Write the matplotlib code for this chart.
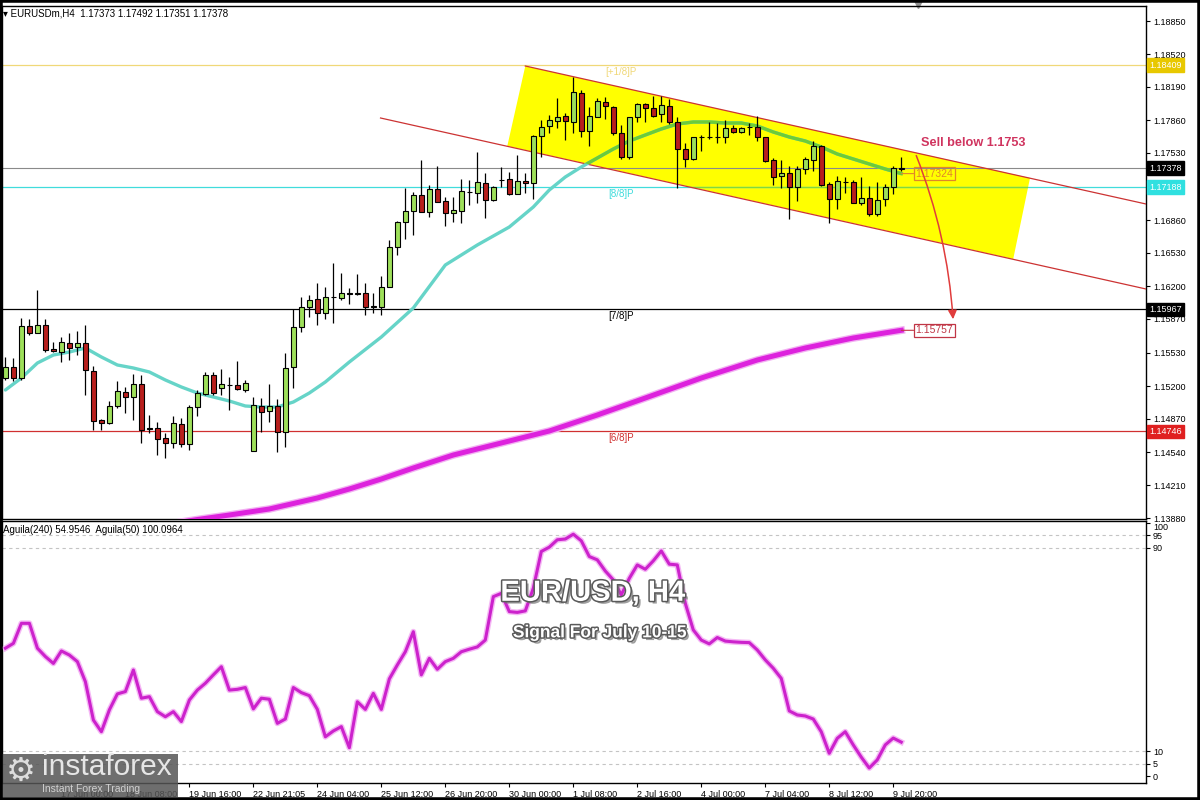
import numpy as np
import matplotlib
matplotlib.use('Agg')
import matplotlib.pyplot as plt
import matplotlib.patheffects as pe
from matplotlib.patches import Polygon, Rectangle, FancyArrowPatch
from matplotlib.transforms import blended_transform_factory

plt.rcParams['font.family'] = ['Liberation Sans', 'DejaVu Sans']

# EURUSD H4 candles (bar 0 = leftmost)
opens = [1.1528, 1.1539, 1.1528, 1.1580, 1.1573, 1.1581, 1.1557, 1.1554, 1.1563, 1.1559,
         1.1563, 1.1535, 1.1486, 1.1483, 1.1500, 1.1514, 1.1509, 1.1522, 1.1477, 1.1478,
         1.1468, 1.1463, 1.1482, 1.1462, 1.1499, 1.1512, 1.1531, 1.1518, 1.1521, 1.1521,
         1.1516, 1.1455, 1.1500, 1.1495, 1.1500, 1.1474, 1.1539, 1.1579, 1.1599, 1.1607,
         1.1593, 1.1609, 1.1608, 1.1613, 1.1612, 1.1613, 1.1599, 1.1599, 1.1619, 1.1659,
         1.1684, 1.1695, 1.1711, 1.1694, 1.1717, 1.1705, 1.1693, 1.1695, 1.1714, 1.1713,
         1.1723, 1.1706, 1.1726, 1.1727, 1.1712, 1.1725, 1.1723, 1.1770, 1.1780, 1.1785,
         1.1790, 1.1784, 1.1813, 1.1775, 1.1789, 1.1804, 1.1799, 1.1773, 1.1749, 1.1789,
         1.1802, 1.1798, 1.1792, 1.1800, 1.1784, 1.1757, 1.1747, 1.1769, 1.1769, 1.1769,
         1.1769, 1.1778, 1.1774, 1.1779, 1.1779, 1.1769, 1.1746, 1.1730, 1.1733, 1.1719,
         1.1737, 1.1746, 1.1760, 1.1722, 1.1707, 1.1724, 1.1724, 1.1703, 1.1708, 1.1692,
         1.1707, 1.1719, 1.17373]
highs = [1.1549, 1.1548, 1.1588, 1.1587, 1.1616, 1.1587, 1.1564, 1.1569, 1.1573, 1.1575,
         1.1581, 1.1540, 1.1487, 1.1505, 1.1525, 1.1519, 1.1532, 1.1531, 1.1491, 1.1484,
         1.1473, 1.1490, 1.1488, 1.1501, 1.1516, 1.1534, 1.1534, 1.1537, 1.1529, 1.1545,
         1.1526, 1.1509, 1.1508, 1.1522, 1.1507, 1.1553, 1.1597, 1.1609, 1.1611, 1.1623,
         1.1619, 1.1643, 1.1633, 1.1618, 1.1632, 1.1623, 1.1613, 1.1630, 1.1666, 1.1685,
         1.1718, 1.1714, 1.1746, 1.1721, 1.1740, 1.1709, 1.1709, 1.1727, 1.1726, 1.1754,
         1.1733, 1.1720, 1.1739, 1.1734, 1.1751, 1.1733, 1.1771, 1.1786, 1.1791, 1.1808,
         1.1793, 1.1829, 1.1816, 1.1799, 1.1808, 1.1809, 1.1800, 1.1781, 1.1789, 1.1803,
         1.1803, 1.1810, 1.1810, 1.1807, 1.1789, 1.1763, 1.1769, 1.1771, 1.1784, 1.1783,
         1.1786, 1.1781, 1.1779, 1.1783, 1.1790, 1.1769, 1.1748, 1.1746, 1.1740, 1.1740,
         1.1749, 1.1765, 1.1761, 1.1724, 1.1730, 1.1729, 1.1726, 1.1729, 1.1720, 1.1724,
         1.1722, 1.1740, 1.17492]
lows = [1.1526, 1.1525, 1.1526, 1.1571, 1.1573, 1.1554, 1.1554, 1.1544, 1.1546, 1.1551,
        1.1511, 1.1476, 1.1476, 1.1482, 1.1498, 1.1493, 1.1486, 1.1463, 1.1473, 1.1451,
        1.1448, 1.1458, 1.1459, 1.1456, 1.1490, 1.1511, 1.1511, 1.1511, 1.1496, 1.1516,
        1.1514, 1.1455, 1.1474, 1.1484, 1.1454, 1.1459, 1.1518, 1.1574, 1.1589, 1.1581,
        1.1587, 1.1583, 1.1606, 1.1602, 1.1611, 1.1591, 1.1593, 1.1591, 1.1619, 1.1651,
        1.1667, 1.1671, 1.1694, 1.1689, 1.1704, 1.1680, 1.1684, 1.1683, 1.1701, 1.1703,
        1.1688, 1.1705, 1.1719, 1.1711, 1.1712, 1.1713, 1.1707, 1.1749, 1.1773, 1.1778,
        1.1766, 1.1773, 1.1769, 1.1760, 1.1789, 1.1787, 1.1771, 1.1747, 1.1747, 1.1784,
        1.1784, 1.1789, 1.1784, 1.1782, 1.1718, 1.1739, 1.1746, 1.1755, 1.1767, 1.1763,
        1.1763, 1.1773, 1.1773, 1.1771, 1.1765, 1.1744, 1.1721, 1.1718, 1.1687, 1.1705,
        1.1732, 1.1735, 1.1720, 1.1683, 1.1697, 1.1713, 1.1703, 1.1701, 1.1690, 1.1690,
        1.1700, 1.1712, 1.17351]
closes = [1.1539, 1.1528, 1.1580, 1.1573, 1.1581, 1.1556, 1.1555, 1.1564, 1.1558, 1.1563,
          1.1536, 1.1485, 1.1483, 1.1500, 1.1515, 1.1509, 1.1522, 1.1476, 1.1478, 1.1467,
          1.1463, 1.1483, 1.1462, 1.1499, 1.1513, 1.1531, 1.1513, 1.1522, 1.1521, 1.1517,
          1.1523, 1.1501, 1.1494, 1.1500, 1.1474, 1.1538, 1.1579, 1.1599, 1.1606, 1.1593,
          1.1609, 1.1609, 1.1613, 1.1612, 1.1613, 1.1599, 1.1600, 1.1619, 1.1659, 1.1684,
          1.1695, 1.1711, 1.1694, 1.1717, 1.1704, 1.1693, 1.1696, 1.1715, 1.1714, 1.1724,
          1.1706, 1.1719, 1.1726, 1.1712, 1.1725, 1.1723, 1.1770, 1.1779, 1.1786, 1.1789,
          1.1785, 1.1814, 1.1775, 1.1790, 1.1805, 1.1800, 1.1773, 1.1749, 1.1789, 1.1802,
          1.1798, 1.1790, 1.1801, 1.1784, 1.1757, 1.1747, 1.1769, 1.1769, 1.1769, 1.1769,
          1.1778, 1.1774, 1.1778, 1.1779, 1.1769, 1.1745, 1.1729, 1.1733, 1.1719, 1.1737,
          1.1747, 1.1760, 1.1721, 1.1707, 1.1725, 1.1724, 1.1703, 1.1708, 1.1692, 1.1706,
          1.1719, 1.1738, 1.17378]

# fast moving average (cyan), read at these bars
ma_fast_bars = [0, 2, 4, 6, 8, 10, 12, 14, 16, 18, 20, 22, 24, 26, 28, 30, 32, 34, 36, 38,
                40, 43, 47, 51, 55, 59, 63, 66, 68, 70, 72, 74, 76, 78, 80, 82, 84, 86, 88,
                90, 92, 94, 96, 98, 100, 102, 104, 106, 108, 110, 112]
ma_fast = [1.1516, 1.1528, 1.1543, 1.1551, 1.1554, 1.1558, 1.1549, 1.1541, 1.1538, 1.1534,
           1.1526, 1.1519, 1.1513, 1.1509, 1.1505, 1.1500, 1.1499, 1.1499, 1.1504, 1.1513,
           1.1524, 1.1544, 1.1569, 1.1598, 1.1641, 1.1661, 1.1679, 1.1699, 1.1716, 1.1729,
           1.1739, 1.1748, 1.1757, 1.1765, 1.1771, 1.1777, 1.1782, 1.1784, 1.1784, 1.1783,
           1.1783, 1.1780, 1.1774, 1.1769, 1.1765, 1.1759, 1.1752, 1.1747, 1.1742, 1.1737,
           1.17324]

# slow moving average (magenta)
ma_slow_bars = [22, 24, 28, 33, 39, 43, 47, 51, 56, 62, 68, 74, 80, 87, 94, 100, 106, 112]
ma_slow = [1.1384, 1.13865, 1.1391, 1.1397, 1.1408, 1.1417, 1.1427, 1.1438, 1.1451, 1.1463,
           1.1475, 1.1491, 1.1508, 1.1528, 1.1546, 1.1558, 1.1568, 1.15757]

# Aguila(240) oscillator, one value per bar
aguila = [50.5, 52.4, 60.3, 60.3, 50.5, 47.2, 44.5, 49.4, 47.8, 45.2,
          37.3, 22.2, 17.6, 26.2, 32.5, 33.4, 41.9, 30.8, 31.4, 25.5,
          23.5, 25.5, 21.6, 30.1, 34.0, 36.7, 40.0, 43.2, 34.0, 34.3,
          35.0, 26.6, 30.8, 30.4, 20.9, 22.6, 35.0, 33.0, 31.8, 26.4,
          15.6, 17.9, 19.6, 11.3, 29.4, 26.4, 32.7, 26.4, 38.4, 43.9,
          49.1, 57.0, 40.0, 46.5, 42.2, 45.2, 46.5, 49.1, 50.1, 51.0,
          53.7, 70.8, 72.1, 64.9, 64.6, 65.2, 74.1, 88.6, 90.3, 93.2,
          93.5, 95.4, 92.8, 86.6, 85.3, 80.9, 77.4, 71.5, 78.0, 83.3,
          81.6, 84.9, 88.8, 83.6, 83.3, 68.2, 57.7, 53.7, 52.2, 54.7,
          53.3, 53.0, 52.8, 52.7, 49.8, 45.9, 42.6, 38.6, 25.8, 24.2,
          23.8, 22.6, 17.6, 9.1, 15.0, 17.6, 12.4, 7.6, 3.3, 6.5,
          12.4, 15.1, 13.5]

# Murrey math levels
level_prices = [1.18409, 1.17188, 1.15967, 1.14746]
level_names = ['[+1/8]P', '[8/8]P', '[7/8]P', '[6/8]P']
level_colors = ['#f0d878', '#40dcdc', '#000000', '#d03030']
level_box_colors = ['#e8c800', '#30e0e0', '#000000', '#e02020']
bid_price = 1.17378

# descending channel drawn on the chart
chan_up_x = [65.0, 142.6]
chan_up_y = [1.1840, 1.1702]
chan_lo_x = [46.9, 142.6]
chan_lo_y = [1.1788, 1.1617]
box_x = [65.0, 128.1, 126.0, 62.75]
box_y = [1.1840, 1.1728, 1.1647, 1.1760]
arrow_from = (113.75, 1.1753)
arrow_to = (118.5, 1.1584)

price_ticks = [1.18850, 1.18520, 1.18190, 1.17860, 1.17530, 1.16860, 1.16530, 1.16200,
               1.15870, 1.15530, 1.15200, 1.14870, 1.14540, 1.14210, 1.13880]
osc_ticks = [0, 5, 10, 90, 95, 100]
date_bars = [7, 15, 23, 31, 39, 47, 55, 63, 71, 79, 87, 95, 103, 111]
date_labels = ['17 Jun 00:00', '18 Jun 08:00', '19 Jun 16:00', '22 Jun 21:05', '24 Jun 04:00',
               '25 Jun 12:00', '26 Jun 20:00', '30 Jun 00:00', '1 Jul 08:00', '2 Jul 16:00',
               '4 Jul 00:00', '7 Jul 04:00', '8 Jul 12:00', '9 Jul 20:00']


fig = plt.figure(figsize=(12, 8), dpi=100)
ax = fig.add_axes([0.002, 0.35125, 0.953, 0.64125])
axs = fig.add_axes([0.002, 0.02125, 0.953, 0.3275])

xmin, xmax = -0.375, 142.6
ax.set_xlim(xmin, xmax)
axs.set_xlim(xmin, xmax)
ax.set_ylim(1.1387, 1.1900)
axs.set_ylim(-2.6, 100.6)

# channel
chan = Polygon(list(zip(box_x, box_y)), closed=True, facecolor='#ffff00', edgecolor='none', zorder=1)
ax.add_patch(chan)
ax.plot(chan_up_x, chan_up_y, color='#cc3333', lw=0.9, zorder=3)
ax.plot(chan_lo_x, chan_lo_y, color='#cc3333', lw=0.9, zorder=3)

# horizontal levels
for p, name, col in zip(level_prices, level_names, level_colors):
    ax.axhline(p, color=col, lw=0.9, zorder=2)
    ax.annotate(name, (77, p), xytext=(0, -1.5), textcoords='offset points',
                ha='center', va='top', fontsize=7, color=col, zorder=3)
ln = ax.axhline(level_prices[1], color='#80d840', lw=0.9, zorder=2)
ln.set_clip_path(chan)
ax.axhline(bid_price, color='#8a8a8a', lw=0.8, zorder=2)

# moving averages
ax.plot(ma_fast_bars, ma_fast, color='#66d4c8', lw=2.4, zorder=3, solid_capstyle='round')
g = ax.plot(ma_fast_bars, ma_fast, color='#6ccb3a', lw=2.4, zorder=3)[0]
g.set_clip_path(chan)
ax.plot(ma_slow_bars, ma_slow, color='#dd22dd', lw=3.6, zorder=3,
        path_effects=[pe.Stroke(linewidth=5.5, foreground='#f2b0f2'), pe.Normal()])

# candles
o = np.array(opens)
h = np.array(highs)
l = np.array(lows)
c = np.array(closes)
idx = np.arange(len(o))
up = c >= o
ax.vlines(idx, l, h, color='black', lw=0.9, zorder=4)
body_b = np.minimum(o, c)
body_h = np.maximum(np.abs(c - o), 0.00001)
cols = np.where(up, '#9ee05a', '#b81f1d')
ax.bar(idx, body_h, bottom=body_b, width=0.62, color=cols, edgecolor='black', lw=0.8, zorder=5)

# price tags at ends of the averages
ax.annotate(f'{ma_fast[-1]:.5f}', (ma_fast_bars[-1], ma_fast[-1]), xytext=(113.8, ma_fast[-1]),
            textcoords='data', ha='left', va='center', fontsize=7.5, color='#e0862a',
            bbox=dict(boxstyle='square,pad=0.15', fc='none', ec='#e0862a', lw=0.9),
            arrowprops=dict(arrowstyle='-', color='#e0862a', lw=0.8, shrinkA=0, shrinkB=0), zorder=6)
ax.annotate(f'{ma_slow[-1]:.5f}', (ma_slow_bars[-1], ma_slow[-1]), xytext=(113.8, ma_slow[-1]),
            textcoords='data', ha='left', va='center', fontsize=7.5, color='#c03545',
            bbox=dict(boxstyle='square,pad=0.15', fc='white', ec='#c03545', lw=0.9),
            arrowprops=dict(arrowstyle='-', color='#c03545', lw=0.8, shrinkA=0, shrinkB=0), zorder=6)

arr = FancyArrowPatch(arrow_from, arrow_to, connectionstyle='arc3,rad=-0.08', arrowstyle='-|>',
                      mutation_scale=13, color='#e03c3c', lw=1.1, zorder=6)
ax.add_patch(arr)
ax.text(114.5, 1.1763, 'Sell below 1.1753', fontsize=9.2, fontweight='bold', color='#d0345f',
        ha='left', va='center', zorder=6)

# axes styling
for a in (ax, axs):
    for s in a.spines.values():
        s.set_color('black')
        s.set_linewidth(1.0)
    a.yaxis.tick_right()
    a.tick_params(axis='y', direction='out', length=3, labelsize=6.5, pad=2, width=0.8)
ax.set_yticks(price_ticks)
ax.set_yticklabels([f'{t:.5f}' for t in price_ticks])
ax.tick_params(axis='x', bottom=False, labelbottom=False)

# right-hand price boxes
tr = blended_transform_factory(ax.transAxes, ax.transData)
for p, bc in zip(level_prices, level_box_colors):
    ax.text(1.003, p, f'{p:.5f}', transform=tr, fontsize=6.5, color='white', ha='left', va='center',
            bbox=dict(boxstyle='square,pad=0.25', fc=bc, ec=bc), clip_on=False, zorder=10)
ax.text(1.003, bid_price, f'{bid_price:.5f}', transform=tr, fontsize=6.5, color='white', ha='left',
        va='center', bbox=dict(boxstyle='square,pad=0.25', fc='black', ec='black'), clip_on=False, zorder=10)

# shift marker at the top
ax.plot([114.1], [1.004], marker='v', color='#909090', ms=6, clip_on=False,
        transform=blended_transform_factory(ax.transData, ax.transAxes))

# oscillator panel
for lv in (5, 10, 90, 95):
    axs.axhline(lv, color='#c4c4c4', lw=0.8, ls=(0, (3, 3)), zorder=1)
axs.plot(idx, aguila, color='#cc22cc', lw=2.2, zorder=3,
         path_effects=[pe.Stroke(linewidth=4.2, foreground='#f5b8f5'), pe.Normal()])
axs.set_yticks(osc_ticks)
axs.set_yticklabels([str(t) for t in osc_ticks])
axs.get_yticklabels()[-1].set_va('top')
axs.set_xticks(date_bars, date_labels, ha='left', fontsize=6.5)
axs.tick_params(axis='x', direction='out', length=3, pad=2, width=0.8)

fig.text(0.0025, 0.98375, '▾ EURUSDm,H4  1.17373 1.17492 1.17351 1.17378', fontsize=7,
         ha='left', va='center')
fig.text(0.0025, 0.3375, 'Aguila(240) 54.9546  Aguila(50) 100.0964', fontsize=7,
         ha='left', va='center')

shadow = [pe.SimplePatchShadow(offset=(2, -2), shadow_rgbFace='#777777', alpha=0.7),
          pe.Stroke(linewidth=2.2, foreground='#5a5a5a'), pe.Normal()]
fig.text(0.494, 0.259, 'EUR/USD, H4', fontsize=21, fontweight='bold', color='white',
         ha='center', va='center', path_effects=shadow, zorder=20)
fig.text(0.5, 0.209, 'Signal For July 10-15', fontsize=12.5, fontweight='bold', color='white',
         ha='center', va='center', path_effects=shadow, zorder=20)

# logo
fig.add_artist(Rectangle((0, 0.00375), 0.148, 0.05375, transform=fig.transFigure,
                         facecolor='#555555', alpha=0.85, edgecolor='none', zorder=30))
fig.text(0.017, 0.036, '⚙', fontsize=24, color='#dddddd', ha='center', va='center',
         family='DejaVu Sans', zorder=31)
fig.text(0.035, 0.0415, 'instaforex', fontsize=21.5, color='#e6e6e6', ha='left', va='center', zorder=31)
fig.text(0.035, 0.014, 'Instant Forex Trading', fontsize=7.5, color='#d0d0d0', ha='left',
         va='center', zorder=31)

fig.add_artist(Rectangle((0, 0), 1, 1, transform=fig.transFigure, fill=False,
                         edgecolor='black', lw=4, zorder=40))

fig.savefig('out.png', dpi=100, facecolor='white')
